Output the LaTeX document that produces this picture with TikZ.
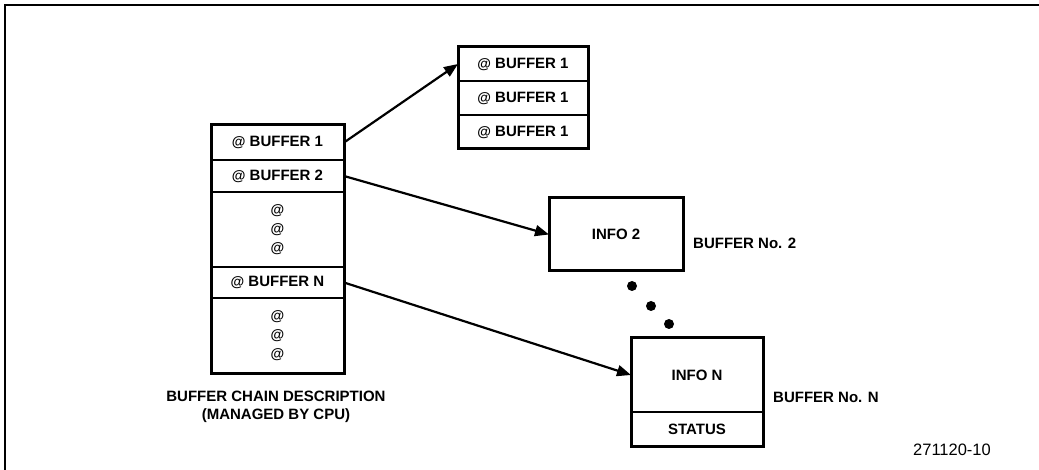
\documentclass[tikz,border=0pt]{standalone}
\usepackage{fontspec}
\setmainfont{Liberation Sans}
\usetikzlibrary{arrows.meta,fit}
\begin{document}
\begin{tikzpicture}[x=1pt,y=-1pt,
  cell/.style={draw,line width=2.4pt,rectangle,inner sep=0pt,outer sep=0pt,
    font=\fontsize{15}{19}\selectfont\bfseries,align=center},
  outline/.style={draw,line width=3pt,rectangle,inner sep=0pt,outer sep=0pt},
  lbl/.style={font=\fontsize{15}{18}\selectfont\bfseries,inner sep=0pt},
  ptr/.style={line width=2.2pt,-{Triangle[length=14pt,width=11pt]}},
  frameline/.style={line width=1.4pt},
  blob/.style={circle,fill,draw=none,inner sep=0pt,minimum size=10pt}]
\useasboundingbox (0,0) rectangle (1039,470);
\newcommand{\atsym}{{\fontsize{14}{14}\selectfont\bfseries @}}
% frame
\draw[frameline] (1039,5) -- (5,5) -- (5,470);
% left column
\node[cell,minimum width=133pt,minimum height=35pt] (l1) at (277.5,142.5) {\atsym\ BUFFER 1};
\node[cell,minimum width=133pt,minimum height=32pt] (l2) at (277.5,176) {\atsym\ BUFFER 2};
\node[cell,minimum width=133pt,minimum height=75pt] (ld1) at (277.5,229.5) {\atsym\\\atsym\\\atsym};
\node[cell,minimum width=133pt,minimum height=31pt] (ln) at (277.5,282.5) {\atsym\ BUFFER N};
\node[cell,minimum width=133pt,minimum height=75pt] (ld2) at (277.5,335.5) {\atsym\\\atsym\\\atsym};
\node[outline,fit=(l1)(ld2)] (lbox) {};
% top right column
\node[cell,minimum width=130pt,minimum height=34pt] (t1) at (523,64) {\atsym\ BUFFER 1};
\node[cell,minimum width=130pt,minimum height=34pt] (t2) at (523,98) {\atsym\ BUFFER 1};
\node[cell,minimum width=130pt,minimum height=34pt] (t3) at (523,132) {\atsym\ BUFFER 1};
\node[outline,fit=(t1)(t3)] (tbox) {};
% info 2
\node[cell,line width=3pt,minimum width=134pt,minimum height=73pt] (info2) at (616,234.5) {INFO 2};
\node[lbl,anchor=west] (b2lab) at (693,243) {BUFFER No. 2};
% dots
\node[blob] (d1) at (632,286) {};
\node[blob] (d2) at (651,306) {};
\node[blob] (d3) at (669,324) {};
% info N
\node[cell,minimum width=132pt,minimum height=74pt] (infon) at (697,375) {INFO N};
\node[cell,minimum width=132pt,minimum height=34pt] (status) at (697,429) {STATUS};
\node[outline,fit=(infon)(status)] (nbox) {};
\node[lbl,anchor=west] (bnlab) at (773,397) {BUFFER No. N};
% caption
\node[lbl,align=center] (chain) at (276,407) {BUFFER CHAIN DESCRIPTION\\(MANAGED BY CPU)};
\node[font=\fontsize{16.5}{16.5}\selectfont,inner sep=0pt] (fig) at (952,450) {271120-10};
% pointers
\draw[ptr] (l1.east) -- (t1.west);
\draw[ptr] (l2.east) -- (info2.west);
\draw[ptr] (ln.east) -- (infon.west);
\end{tikzpicture}
\end{document}
